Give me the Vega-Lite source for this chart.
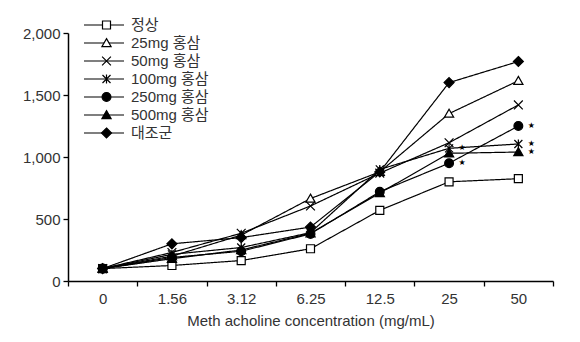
{
  "$schema": "https://vega.github.io/schema/vega-lite/v6.json",
  "width": 485,
  "height": 248,
  "autosize": "none",
  "padding": {"left": 68, "top": 33, "right": 27, "bottom": 61},
  "background": "white",
  "config": {
    "view": {"stroke": null},
    "font": "Liberation Sans"
  },
  "data": {"values": [
    {"conc": "0", "group": "정상", "series": "정상", "value": 100, "star": ""},
    {"conc": "1.56", "group": "정상", "series": "정상", "value": 125, "star": ""},
    {"conc": "3.12", "group": "정상", "series": "정상", "value": 165, "star": ""},
    {"conc": "6.25", "group": "정상", "series": "정상", "value": 260, "star": ""},
    {"conc": "12.5", "group": "정상", "series": "정상", "value": 570, "star": ""},
    {"conc": "25", "group": "정상", "series": "정상", "value": 800, "star": ""},
    {"conc": "50", "group": "정상", "series": "정상", "value": 825, "star": ""},
    {"conc": "0", "group": "25mg 홍삼", "series": "25mg 홍삼", "value": 100, "star": ""},
    {"conc": "1.56", "group": "25mg 홍삼", "series": "25mg 홍삼", "value": 200, "star": ""},
    {"conc": "3.12", "group": "25mg 홍삼", "series": "25mg 홍삼", "value": 370, "star": ""},
    {"conc": "6.25", "group": "25mg 홍삼", "series": "25mg 홍삼", "value": 665, "star": ""},
    {"conc": "12.5", "group": "25mg 홍삼", "series": "25mg 홍삼", "value": 880, "star": ""},
    {"conc": "25", "group": "25mg 홍삼", "series": "25mg 홍삼", "value": 1350, "star": ""},
    {"conc": "50", "group": "25mg 홍삼", "series": "25mg 홍삼", "value": 1615, "star": ""},
    {"conc": "0", "group": "50mg 홍삼", "series": "50mg 홍삼", "value": 100, "star": ""},
    {"conc": "1.56", "group": "50mg 홍삼", "series": "50mg 홍삼", "value": 230, "star": ""},
    {"conc": "3.12", "group": "50mg 홍삼", "series": "50mg 홍삼", "value": 385, "star": ""},
    {"conc": "6.25", "group": "50mg 홍삼", "series": "50mg 홍삼", "value": 605, "star": ""},
    {"conc": "12.5", "group": "50mg 홍삼", "series": "50mg 홍삼", "value": 870, "star": ""},
    {"conc": "25", "group": "50mg 홍삼", "series": "50mg 홍삼", "value": 1115, "star": ""},
    {"conc": "50", "group": "50mg 홍삼", "series": "50mg 홍삼", "value": 1420, "star": ""},
    {"conc": "0", "group": "100mg 홍삼", "series": "100mg 홍삼", "value": 100, "star": ""},
    {"conc": "1.56", "group": "100mg 홍삼", "series": "100mg 홍삼", "value": 215, "star": ""},
    {"conc": "3.12", "group": "100mg 홍삼", "series": "100mg 홍삼", "value": 270, "star": ""},
    {"conc": "6.25", "group": "100mg 홍삼", "series": "100mg 홍삼", "value": 390, "star": ""},
    {"conc": "12.5", "group": "100mg 홍삼", "series": "100mg 홍삼", "value": 900, "star": ""},
    {"conc": "25", "group": "100mg 홍삼", "series": "100mg 홍삼", "value": 1070, "star": "★"},
    {"conc": "50", "group": "100mg 홍삼", "series": "100mg 홍삼", "value": 1105, "star": "★"},
    {"conc": "0", "group": "250mg 홍삼", "series": "250mg 홍삼", "value": 100, "star": ""},
    {"conc": "1.56", "group": "250mg 홍삼", "series": "250mg 홍삼", "value": 190, "star": ""},
    {"conc": "3.12", "group": "250mg 홍삼", "series": "250mg 홍삼", "value": 240, "star": ""},
    {"conc": "6.25", "group": "250mg 홍삼", "series": "250mg 홍삼", "value": 380, "star": ""},
    {"conc": "12.5", "group": "250mg 홍삼", "series": "250mg 홍삼", "value": 720, "star": ""},
    {"conc": "25", "group": "250mg 홍삼", "series": "250mg 홍삼", "value": 950, "star": "★"},
    {"conc": "50", "group": "250mg 홍삼", "series": "250mg 홍삼", "value": 1250, "star": "★"},
    {"conc": "0", "group": "500mg 홍삼", "series": "500mg 홍삼", "value": 100, "star": ""},
    {"conc": "1.56", "group": "500mg 홍삼", "series": "500mg 홍삼", "value": 180, "star": ""},
    {"conc": "3.12", "group": "500mg 홍삼", "series": "500mg 홍삼", "value": 250, "star": ""},
    {"conc": "6.25", "group": "500mg 홍삼", "series": "500mg 홍삼", "value": 385, "star": ""},
    {"conc": "12.5", "group": "500mg 홍삼", "series": "500mg 홍삼", "value": 710, "star": ""},
    {"conc": "25", "group": "500mg 홍삼", "series": "500mg 홍삼", "value": 1030, "star": ""},
    {"conc": "50", "group": "500mg 홍삼", "series": "500mg 홍삼", "value": 1040, "star": "★"},
    {"conc": "0", "group": "대조군", "series": "대조군", "value": 100, "star": ""},
    {"conc": "1.56", "group": "대조군", "series": "대조군", "value": 300, "star": ""},
    {"conc": "3.12", "group": "대조군", "series": "대조군", "value": 350, "star": ""},
    {"conc": "6.25", "group": "대조군", "series": "대조군", "value": 435, "star": ""},
    {"conc": "12.5", "group": "대조군", "series": "대조군", "value": 880, "star": ""},
    {"conc": "25", "group": "대조군", "series": "대조군", "value": 1600, "star": ""},
    {"conc": "50", "group": "대조군", "series": "대조군", "value": 1770, "star": ""}
  ]},
  "encoding": {
    "x": {
      "field": "conc", "type": "ordinal",
      "sort": ["0", "1.56", "3.12", "6.25", "12.5", "25", "50"],
      "scale": {"type": "band", "paddingInner": 0, "paddingOuter": 0},
      "axis": {
        "title": "Meth acholine concentration (mg/mL)",
        "titleFontSize": 15, "titleFontWeight": "normal", "titleColor": "#333", "titlePadding": 7,
        "labelAngle": 0, "labelFontSize": 15, "labelColor": "#333", "labelPadding": 5,
        "tickBand": "extent", "tickSize": 5, "tickColor": "black", "tickWidth": 1.3,
        "domainColor": "black", "domainWidth": 1.5, "grid": false
      }
    },
    "y": {
      "field": "value", "type": "quantitative",
      "scale": {"domain": [0, 2000], "nice": false},
      "axis": {
        "title": null, "values": [0, 500, 1000, 1500, 2000], "format": ",.0f",
        "labelFontSize": 15, "labelColor": "#333", "labelPadding": 3,
        "tickSize": 5, "tickColor": "black", "tickWidth": 1.3,
        "domainColor": "black", "domainWidth": 1.5, "grid": false
      }
    }
  },
  "layer": [
    {
      "mark": {"type": "line", "color": "black", "strokeWidth": 1.2},
      "encoding": {
        "detail": {"field": "group"},
        "strokeDash": {
          "field": "series", "type": "nominal",
          "sort": ["정상", "25mg 홍삼", "50mg 홍삼", "100mg 홍삼", "250mg 홍삼", "500mg 홍삼", "대조군"],
          "scale": {
            "range": [[1, 0], [1, 0], [1, 0], [1, 0], [1, 0], [1, 0], [1, 0]]
          },
          "legend": {
            "title": null, "orient": "none", "legendX": 15, "legendY": -17,
            "padding": 0, "clipHeight": 18, "rowPadding": 0,
            "symbolType": "stroke", "symbolSize": 1600, "symbolStrokeWidth": 1.2, "symbolStrokeColor": "black",
            "labelExpr": "''", "labelFontSize": 15, "zindex": 1
          }
        }
      }
    },
    {
      "mark": {"type": "point", "filled": true, "stroke": "black", "strokeWidth": 1.2, "opacity": 1, "size": 64},
      "encoding": {
        "shape": {
          "field": "group", "type": "nominal",
          "scale": {
            "domain": ["정상", "25mg 홍삼", "50mg 홍삼", "100mg 홍삼", "250mg 홍삼", "500mg 홍삼", "대조군"],
            "range": [
              "M-1,-1L1,-1L1,1L-1,1Z",
              "M0,-1.1L1.15,0.9L-1.15,0.9Z",
              "M-1.1,-1.1L1.1,1.1M-1.1,1.1L1.1,-1.1",
              "M-1,-1L1,1M-1,1L1,-1M0,-1.1L0,1.1",
              "M-1.1,0A1.1,1.1,0,1,0,1.1,0A1.1,1.1,0,1,0,-1.1,0Z",
              "M0,-1.1L1.15,0.9L-1.15,0.9Z",
              "M0,-1.25L1.25,0L0,1.25L-1.25,0Z"
            ]
          },
          "legend": {
            "title": null, "orient": "none", "legendX": 31, "legendY": -17,
            "padding": 0, "clipHeight": 18, "rowPadding": 0,
            "labelFontSize": 15, "labelColor": "#333",
            "labelFont": "Liberation Sans, Noto Sans CJK KR",
            "labelOffset": 17, "symbolSize": 64, "symbolStrokeWidth": 1.2,
            "zindex": 2
          }
        },
        "fill": {
          "field": "group", "type": "nominal",
          "scale": {
            "domain": ["정상", "25mg 홍삼", "50mg 홍삼", "100mg 홍삼", "250mg 홍삼", "500mg 홍삼", "대조군"],
            "range": ["white", "white", "black", "black", "black", "black", "black"]
          },
          "legend": null
        }
      }
    },
    {
      "transform": [{"filter": "datum.star !== ''"}],
      "mark": {"type": "text", "dx": 13, "fontSize": 8, "font": "DejaVu Sans", "color": "black", "baseline": "middle"},
      "encoding": {"text": {"field": "star"}}
    }
  ]
}
